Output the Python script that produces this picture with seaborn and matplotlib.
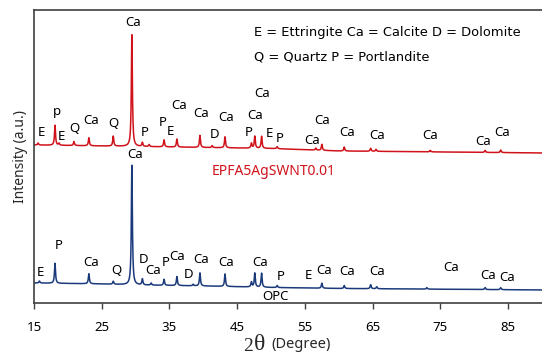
import numpy as np
import pandas as pd
import matplotlib
matplotlib.use("Agg")
import matplotlib.pyplot as plt
import seaborn as sns

# peak positions (2 theta) and heights above the baseline
red_pos = [15.6, 18.1, 18.7, 20.9, 23.1, 26.7, 29.45, 31.0, 32.0, 34.2, 36.1, 39.5,
           41.3, 43.2, 47.1, 47.6, 48.6, 50.9, 56.6, 57.5, 60.8, 64.7, 65.5, 73.5,
           81.6, 83.9]
red_height = [2, 20, 2, 4, 8, 10, 113, 4, 2, 7, 8, 12,
              2, 11, 5, 12, 12, 2, 2, 6, 4, 3, 2, 1.5,
              2, 2.5]
red_base_x = [15, 25, 30, 40, 50, 60, 90]
red_base_y = [158, 157, 156.5, 155.5, 154.5, 152, 150]

blue_pos = [15.8, 18.1, 23.1, 26.7, 29.45, 31.0, 32.3, 34.2, 36.1, 38.5, 39.5,
            43.2, 47.1, 47.6, 48.6, 50.9, 57.5, 60.8, 64.7, 65.6, 73.0, 81.6, 83.9]
blue_height = [2, 20, 10, 3, 121, 6, 2, 6, 9, 1.5, 13,
               12.5, 5, 14, 14, 2, 5, 3, 4, 2, 1.5, 2, 2]
blue_base_x = [15, 25, 30, 40, 50, 60, 90]
blue_base_y = [20, 19, 18, 17, 15.5, 14.5, 13]

# phase labels: text, x, y
red_labels = [("Ca", 29.7, 280), ("E", 16.1, 170), ("p", 18.4, 191), ("E", 19.1, 166),
              ("Q", 20.9, 174), ("Ca", 23.5, 182), ("Q", 26.7, 179), ("P", 31.3, 170),
              ("P", 34.0, 180), ("E", 35.1, 171), ("Ca", 36.4, 197), ("Ca", 39.7, 189),
              ("D", 41.6, 168), ("Ca", 43.4, 185), ("Ca", 48.7, 209), ("Ca", 47.7, 187),
              ("P", 46.7, 170), ("E", 49.8, 169), ("P", 51.3, 164), ("Ca", 57.5, 182),
              ("Ca", 56.1, 162), ("Ca", 61.2, 170), ("Ca", 65.6, 167), ("Ca", 73.5, 167),
              ("Ca", 81.3, 161), ("Ca", 84.1, 170)]
blue_labels = [("Ca", 30.0, 148), ("E", 15.9, 30), ("P", 18.6, 57), ("Ca", 23.5, 40),
               ("Q", 27.2, 32), ("D", 31.2, 43), ("Ca", 32.6, 32), ("P", 34.4, 40),
               ("Ca", 36.2, 46), ("D", 37.8, 28), ("Ca", 39.7, 43), ("Ca", 43.3, 40),
               ("Ca", 48.4, 40), ("P", 51.4, 26), ("E", 55.5, 27), ("Ca", 57.9, 32),
               ("Ca", 61.2, 31), ("Ca", 65.6, 31), ("Ca", 76.6, 35), ("Ca", 82.1, 27),
               ("Ca", 84.9, 25)]

x_ticks = [15, 25, 35, 45, 55, 65, 75, 85]

RED = "#d0121b"
BLUE = "#1b3a7c"


def pattern(x, pos, height, base_x, base_y, hwhm=0.09):
    # baseline plus a lorentzian line for every peak in the list
    y = np.interp(x, base_x, base_y)
    for p, h in zip(pos, height):
        y = y + h / (1 + ((x - p) / hwhm) ** 2)
    return y


two_theta = np.arange(15, 90.01, 0.02)
df = pd.concat([
    pd.DataFrame({"2theta": two_theta,
                  "I": pattern(two_theta, red_pos, red_height, red_base_x, red_base_y),
                  "sample": "EPFA5AgSWNT0.01"}),
    pd.DataFrame({"2theta": two_theta,
                  "I": pattern(two_theta, blue_pos, blue_height, blue_base_x, blue_base_y),
                  "sample": "OPC"}),
])

sns.set_theme(style="white")
plt.rcParams['font.family'] = ['Noto Sans', 'DejaVu Sans']

fig = plt.figure(figsize=(5.42, 3.56), dpi=100)
ax = fig.add_axes([0.0627, 0.149, 0.9373, 0.823])

sns.lineplot(data=df, x="2theta", y="I", hue="sample",
             palette={"EPFA5AgSWNT0.01": RED, "OPC": BLUE},
             linewidth=1.1, legend=False, ax=ax, estimator=None, sort=False)

for t, x, y in red_labels:
    ax.text(x, y, t, ha="center", va="center", fontsize=9.5, color="black")
for t, x, y in blue_labels:
    ax.text(x, y, t, ha="center", va="center", fontsize=9.5, color="black")

ax.text(50.3, 131, "EPFA5AgSWNT0.01", ha="center", va="center", fontsize=10, color=RED)
ax.text(50.7, 6, "OPC", ha="center", va="center", fontsize=9.5, color="black")

ax.text(47.5, 270, "E = Ettringite Ca = Calcite D = Dolomite", ha="left", va="center",
        fontsize=9.4, family="DejaVu Sans", color="black")
ax.text(47.5, 246, "Q = Quartz P = Portlandite", ha="left", va="center",
        fontsize=9.4, family="DejaVu Sans", color="black")

ax.set_xlim(15, 90)
ax.set_ylim(0, 293)
ax.set_xticks(x_ticks)
ax.set_yticks([])
ax.tick_params(axis="x", direction="out", length=4, width=1, colors="#404040",
               labelcolor="black", labelsize=9.5, pad=9, bottom=True)
for s in ["left", "top", "bottom"]:
    ax.spines[s].set_color("#404040")
    ax.spines[s].set_linewidth(1.2)
ax.spines["right"].set_visible(False)

ax.set_xlabel("")
ax.set_ylabel("Intensity (a.u.)", fontsize=10, labelpad=4)

fig.text(0.449, 0.004, "2", fontsize=14, family="Liberation Serif", ha="left", va="bottom")
fig.text(0.468, 0.004, "θ", fontsize=17, family="Liberation Serif", ha="left", va="bottom")
fig.text(0.500, 0.012, "(Degree)", fontsize=10.5, ha="left", va="bottom")

fig.savefig("out.png", dpi=100)
